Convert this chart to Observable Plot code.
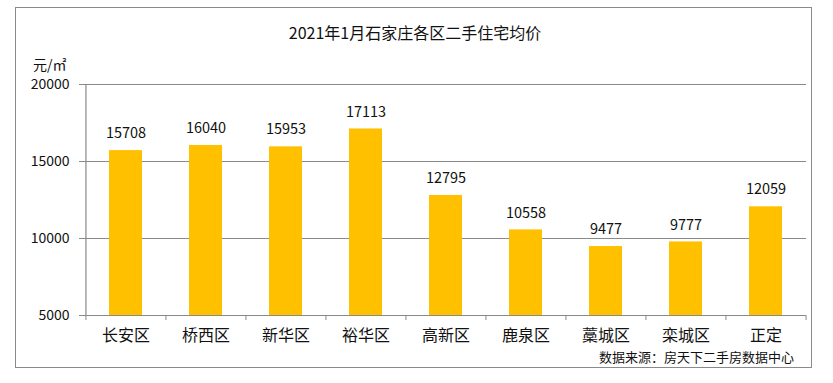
<!DOCTYPE html>
<html><head><meta charset="utf-8">
<script src="https://cdn.jsdelivr.net/npm/d3@7"></script>
<script src="https://cdn.jsdelivr.net/npm/@observablehq/plot@0.6"></script>
<style>
body{margin:0;background:#fff;font-family:"Noto Sans CJK SC","Noto Sans",sans-serif;}
#wrap{position:relative;width:833px;height:383px;overflow:hidden}
#frame{position:absolute;left:15px;top:7px;width:797px;height:361px;border:1.5px solid #8a8a8a;box-sizing:border-box;pointer-events:none}
#title{position:absolute;left:0;top:21px;width:830px;text-align:center;font-size:16px;color:#111;line-height:22px}
#unit{position:absolute;left:33px;top:56px;font-size:14px;color:#111;line-height:17px}
#source{position:absolute;right:39px;top:347px;font-size:13px;color:#111;line-height:20px}
#chart{position:absolute;left:0;top:0}
</style></head>
<body>
<div id="wrap">
  <div id="chart"></div>
  <div id="title">2021年1月石家庄各区二手住宅均价</div>
  <div id="unit">元/㎡</div>
  <div id="source">数据来源：房天下二手房数据中心</div>
  <div id="frame"></div>
</div>
<script>
const categories = ["长安区","桥西区","新华区","裕华区","高新区","鹿泉区","藁城区","栾城区","正定"];
const values = [15708, 16040, 15953, 17113, 12795, 10558, 9477, 9777, 12059];
const yTicks = [5000, 10000, 15000, 20000];

const data = categories.map((c, i) => ({district: c, price: values[i]}));
const W = 833, H = 383, mL = 85, mR = 27, mT = 84, mB = 68;
const step = (W - mL - mR) / categories.length;
const gray = "#8a8a8a";
const font = "'Noto Sans CJK SC','Noto Sans',sans-serif";

const plot = Plot.plot({
  width: W, height: H,
  marginLeft: mL, marginRight: mR, marginTop: mT, marginBottom: mB,
  style: {fontFamily: font, color: "#111", background: "transparent", overflow: "visible"},
  x: {domain: categories, paddingInner: 0.59, paddingOuter: 0.295, label: null},
  y: {domain: [5000, 20000], label: null},
  marks: [
    Plot.gridY(yTicks, {stroke: gray, strokeOpacity: 1, strokeWidth: 1}),
    Plot.barY(data, {x: "district", y1: 5000, y2: "price", fill: "#FFC000"}),
    Plot.ruleY([5000], {stroke: gray, strokeWidth: 1.2}),
    Plot.ruleX([categories[0]], {x: d => d, dx: -step/2, y1: 5000, y2: 20000, stroke: gray, strokeWidth: 1.2}),
    Plot.ruleX(categories, {x: d => d, dx: -step/2, y1: 5000, y2: 5000, insetBottom: -5, stroke: gray}),
    Plot.ruleX([categories[categories.length-1]], {x: d => d, dx: step/2, y1: 5000, y2: 5000, insetBottom: -5, stroke: gray}),
    Plot.axisY(yTicks, {tickSize: 6, tickPadding: 10, fontSize: 14, stroke: gray, tickFormat: d => String(d), label: null}),
    Plot.axisX({tickSize: 0, tickPadding: 14, fontSize: 16, label: null}),
    Plot.text(data, {x: "district", y: "price", text: d => String(d.price), dy: -17, fontSize: 14.5, fill: "#111"})
  ]
});
document.getElementById("chart").appendChild(plot);
</script>
</body></html>
